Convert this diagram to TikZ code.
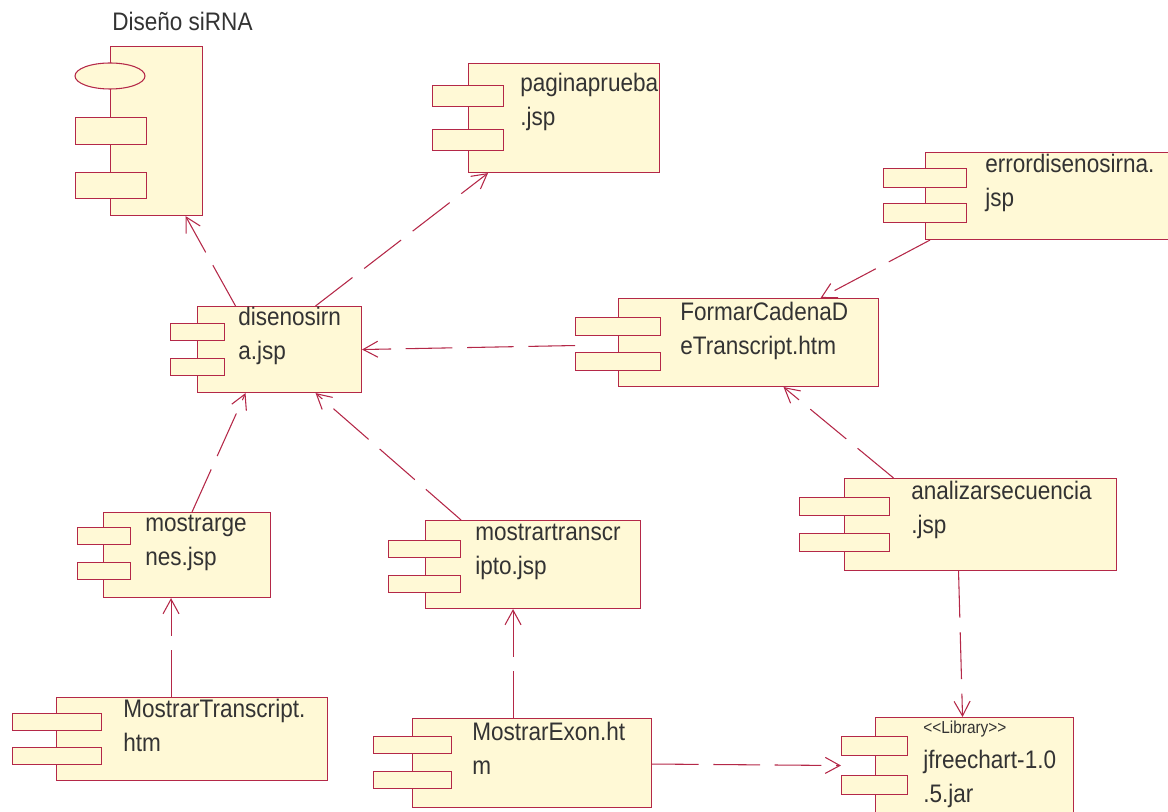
\documentclass[tikz,border=0pt]{standalone}
\usepackage{fontspec}
\setmainfont{Liberation Sans}[FakeStretch=0.89]
\usepackage{tikz}
\usetikzlibrary{arrows.meta,calc,shapes.geometric}
\definecolor{umlline}{RGB}{180,40,72}
\definecolor{umlfill}{RGB}{255,249,214}
\definecolor{umltext}{RGB}{51,51,51}
\newlength\px
\setlength\px{0.75pt}
\tikzstyle{body}=[draw=umlline,fill=umlfill,line width=0.8pt,inner sep=0,anchor=north west]
\tikzstyle{tab}=[body]
\tikzstyle{lbl}=[text=umltext,inner sep=0,anchor=base west,align=left,font=\fontsize{19pt}{25.5pt}\selectfont]
\tikzstyle{dep}=[draw=umlline,line width=0.8pt,dash pattern=on 35pt off 11pt,-{Straight Barb[length=11pt,width=12pt]}]

\begin{document}
\begin{tikzpicture}[x=0.75pt,y=-0.75pt]
  \useasboundingbox (0,0) rectangle (1168,812);

  % package
  \node[body,minimum width=92\px,minimum height=169\px] (pkg) at (110,46) {};
  \node[body,ellipse,anchor=center,minimum width=70\px,minimum height=26\px] (pkg-e) at (110,76) {};
  \node[tab,minimum width=71\px,minimum height=27\px] (pkg-a) at (75,117) {};
  \node[tab,minimum width=71\px,minimum height=26\px] (pkg-b) at (75,172) {};
  \node[lbl] (pkg-t) at (112,31) {Diseño siRNA};

  % components (base of the text node = baseline of its second line)
  \foreach \n/\xa/\ya/\xb/\yb/\ta/\tb/\ua/\ub/\th/\tx/\bl/\la/\lb in {
      pag/468/63/659/172/432/503/85/129/21/520/92/paginaprueba/.jsp,
      err/925/152/1180/239/883/966/168/203/19/985/173/errordisenosirna./jsp,
      dis/197/306/361/392/170/224/323/358/17/238/326/disenosirn/a.jsp,
      frm/618/298/878/386/575/660/317/352/18/680/321/FormarCadenaD/eTranscript.htm,
      mg/103/512/270/597/77/130/527/562/17/145/532/mostrarge/nes.jsp,
      mt/425/520/640/608/388/460/540/575/17/475/541/mostrartranscr/ipto.jsp,
      an/844/478/1116/570/799/889/497/533/18/911/500/analizarsecuencia/.jsp,
      mtr/56/697/327/780/12/101/713/747/17/123/717/MostrarTranscript./htm,
      mex/412/718/651/807/373/451/736/771/17/472/740/MostrarExon.ht/m,
      jfc/875/717/1073/815/841/907/736/775/19/923/768/jfreechart-1.0/.5.jar}{
    \node[body,minimum width={(\xb-\xa)*\px},minimum height={(\yb-\ya)*\px}] (\n) at (\xa,\ya) {};
    \node[tab,minimum width={(\tb-\ta)*\px},minimum height={\th*\px}] (\n-a) at (\ta,\ua) {};
    \node[tab,minimum width={(\tb-\ta)*\px},minimum height={\th*\px}] (\n-b) at (\ta,\ub) {};
    \node[lbl] (\n-t) at ({\tx},{\bl+34}) {\la\\\lb};
  }
  \node[lbl,font=\fontsize{13pt}{15pt}\selectfont] (jfc-s) at (923,733)
    {\textless\kern0pt\textless Library\textgreater\kern0pt\textgreater};

  % dependencies
  \draw[dep] ($(dis.north)+(-44,0)$) -- ($(pkg.south)+(29,0)$);
  \draw[dep] ($(dis.north)+(36,0)$) -- ($(pag.south)+(-76,0)$);
  \draw[dep] ($(err.south west)+(5,0)$) -- ($(frm.north)+(72,0)$);
  \draw[dep] ($(frm.west)+(-43,3)$) -- (dis.east);
  \draw[dep] ($(mg.north)+(5,0)$) -- ($(dis.south)+(-34,0)$);
  \draw[dep] ($(mt.north)+(-72,0)$) -- ($(dis.south)+(36,0)$);
  \draw[dep] ($(an.north)+(-87,0)$) -- ($(frm.south)+(35,0)$);
  \draw[dep] ($(mtr.north)+(-21,0)$) -- ($(mg.south)+(-16,0)$);
  \draw[dep] ($(mex.north)+(-19,0)$) -- ($(mt.south)+(-20,0)$);
  \draw[dep] ($(an.south)+(-22,0)$) -- ($(jfc.north)+(-12,0)$);
  \draw[dep] ($(mex.east)+(0,1)$) -- ($(jfc.west)+(-34,-1)$);
\end{tikzpicture}
\end{document}
